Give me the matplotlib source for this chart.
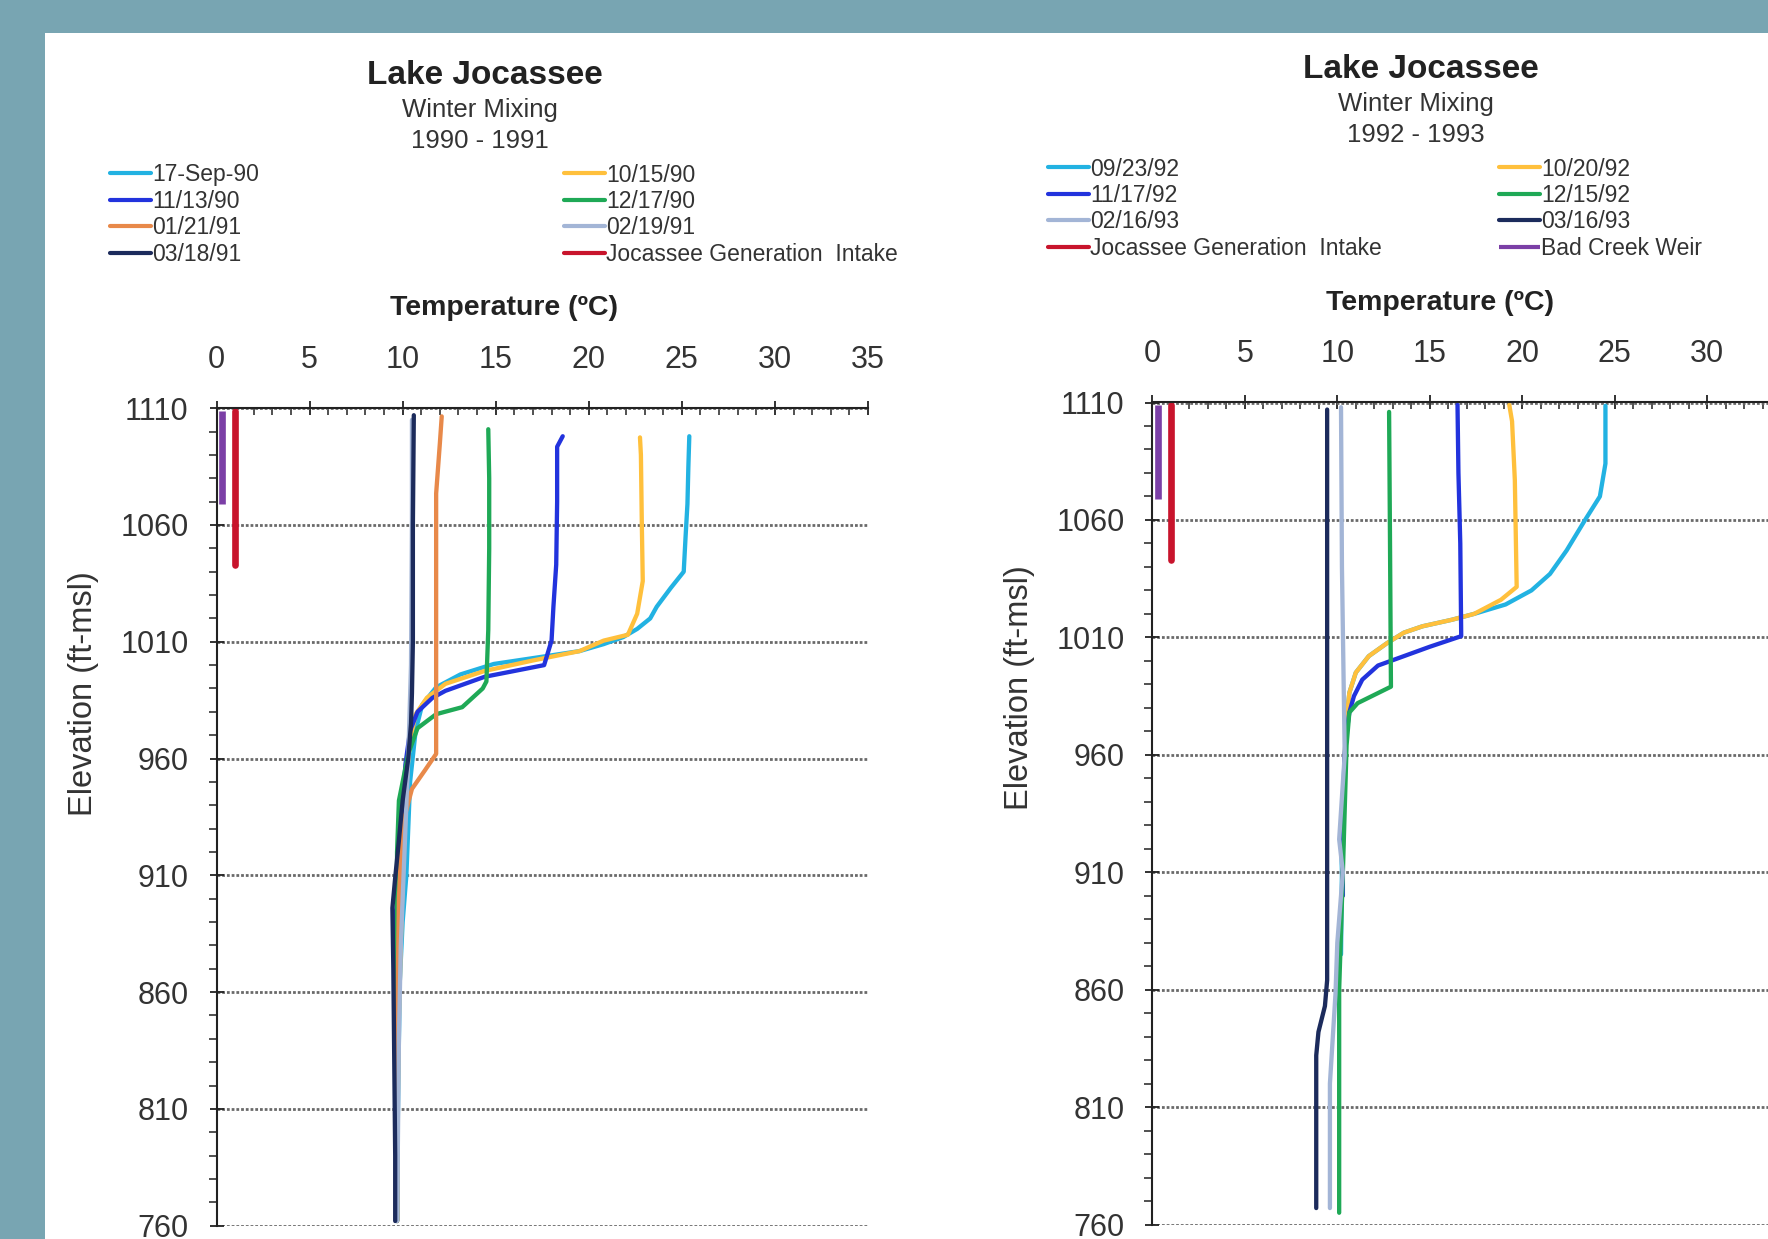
import matplotlib
matplotlib.use("Agg")
import matplotlib.pyplot as plt
from matplotlib.patches import Rectangle
from matplotlib.ticker import MultipleLocator

plt.rcParams["font.family"] = ["Liberation Sans", "DejaVu Sans"]

# ---- 1990-1991 profiles (temperature degC, elevation ft-msl) ----
sep90_temp = [25.4, 25.35, 25.3, 25.2, 25.1, 24.4, 23.65, 23.3, 22.6, 21.85, 20.8, 19.5, 17.0,
              14.9, 13.1, 11.8, 11.05, 10.7, 10.4, 10.3, 10.2, 10.0, 9.85, 9.8, 9.75, 9.7, 9.7]
sep90_elev = [1098, 1085, 1069, 1055, 1040, 1033, 1025, 1020, 1015.5, 1012, 1009, 1006, 1003,
              1000.5, 996, 990.5, 983, 972, 950, 930, 910, 890, 865, 840, 810, 785, 762]
oct90_temp = [22.75, 22.8, 22.85, 22.9, 22.6, 22.1, 20.8, 19.5, 17.0, 14.4, 12.3, 11.3, 10.7,
              10.45, 10.3, 10.15, 10.0, 9.9, 9.8, 9.75, 9.7, 9.7]
oct90_elev = [1097.5, 1090, 1060, 1036, 1022, 1013, 1010.5, 1006, 1002, 997.5, 992, 986, 979,
              970, 960, 940, 910, 880, 850, 820, 790, 762]
nov90_temp = [18.6, 18.3, 18.3, 18.25, 18.1, 18.0, 17.6, 14.4, 12.3, 11.6, 10.8, 10.4, 10.15,
              10.0, 9.9, 9.65, 9.6, 9.6, 9.65, 9.7, 9.7]
nov90_elev = [1098, 1093.5, 1070, 1043, 1025, 1010.5, 1000, 995, 989, 986, 980, 972, 957.5,
              940, 910, 895, 880, 850, 820, 790, 762]
dec90_temp = [14.6, 14.65, 14.65, 14.6, 14.5, 14.3, 13.2, 11.8, 10.8, 10.3, 9.8, 9.7, 9.7,
              9.7, 9.7, 9.7, 9.7]
dec90_elev = [1101, 1080, 1050, 1015, 993, 990, 982, 979, 973, 962, 942, 920, 900, 870, 840,
              800, 762]
jan91_temp = [12.1, 12.0, 11.8, 11.8, 11.8, 11.8, 11.2, 10.5, 10.1, 9.9, 9.8, 9.75, 9.7, 9.7, 9.7]
jan91_elev = [1106.5, 1095, 1073.5, 1040, 1000, 962, 955, 947, 935, 917, 900, 870, 830, 790, 762]
feb91_temp = [10.5, 10.5, 10.45, 10.3, 10.1, 9.9, 9.8, 9.75, 9.7]
feb91_elev = [1105, 1060, 1000, 960, 920, 880, 840, 800, 762]
mar91_temp = [10.6, 10.55, 10.55, 10.5, 10.45, 10.3, 10.0, 9.8, 9.6, 9.45, 9.5, 9.55, 9.6, 9.6]
mar91_elev = [1107, 1060, 1010, 988, 975, 960, 942, 925, 909, 896, 870, 830, 790, 762]

# ---- 1992-1993 profiles ----
sep92_temp = [24.5, 24.5, 24.2, 23.4, 22.4, 21.5, 20.5, 19.1, 17.4, 16.2, 14.6, 13.6, 12.7,
              11.7, 11.0, 10.65, 10.5, 10.4, 10.3, 10.2, 10.25, 10.2]
sep92_elev = [1108.6, 1084, 1070, 1060, 1047, 1037, 1030, 1024, 1020, 1017.5, 1014.7, 1012,
              1007.6, 1002, 995, 986.4, 975, 960, 940, 925, 910, 875]
oct92_temp = [19.3, 19.45, 19.6, 19.7, 18.85, 17.4, 16.2, 14.6, 13.6, 12.7, 11.7, 11.0, 10.65,
              10.5, 10.4, 10.35, 10.3, 10.3]
oct92_elev = [1109, 1102, 1077, 1031.5, 1026, 1020, 1017.5, 1014.7, 1012, 1007.6, 1002, 995,
              986.4, 975, 960, 940, 920, 900]
nov92_temp = [16.5, 16.55, 16.65, 16.7, 15.0, 13.6, 12.2, 11.35, 10.9, 10.65, 10.5, 10.4,
              10.35, 10.3, 10.3]
nov92_elev = [1109, 1080, 1050, 1010.5, 1006, 1002, 998, 992, 985, 978, 969.5, 960, 940, 920, 900]
dec92_temp = [12.8, 12.85, 12.9, 11.1, 10.65, 10.5, 10.45, 10.3, 10.1, 10.1, 10.1]
dec92_elev = [1106, 1050, 989, 982, 978, 964, 950, 910, 860, 810, 765]
feb93_temp = [10.2, 10.25, 10.4, 10.1, 10.3, 10.0, 9.9, 9.6, 9.6, 9.6]
feb93_elev = [1108, 1040, 960, 924, 910, 880, 858, 820, 790, 767]
mar93_temp = [9.45, 9.45, 9.45, 9.33, 8.98, 8.86, 8.86, 8.86]
mar93_elev = [1107, 960, 864, 853, 842, 832, 800, 767]

# ---- fixed structures ----
intake_temp = [1.0, 1.0]
intake_elev = [1109, 1043]
weir_temp = [0.3, 0.3]
weir_elev = [1109, 1069]

C_CYAN, C_YEL, C_BLUE, C_GRN = "#22B2E2", "#FFC03C", "#2233DD", "#1FA956"
C_ORG, C_GRAY, C_NAVY = "#E8894A", "#A3B5D6", "#1C2B5C"
C_RED, C_PURP = "#C8142C", "#7B3FA6"

left_series = [
    ("17-Sep-90", sep90_temp, sep90_elev, C_CYAN),
    ("10/15/90", oct90_temp, oct90_elev, C_YEL),
    ("11/13/90", nov90_temp, nov90_elev, C_BLUE),
    ("12/17/90", dec90_temp, dec90_elev, C_GRN),
    ("01/21/91", jan91_temp, jan91_elev, C_ORG),
    ("02/19/91", feb91_temp, feb91_elev, C_GRAY),
    ("03/18/91", mar91_temp, mar91_elev, C_NAVY),
]
right_series = [
    ("09/23/92", sep92_temp, sep92_elev, C_CYAN),
    ("10/20/92", oct92_temp, oct92_elev, C_YEL),
    ("11/17/92", nov92_temp, nov92_elev, C_BLUE),
    ("12/15/92", dec92_temp, dec92_elev, C_GRN),
    ("02/16/93", feb93_temp, feb93_elev, C_GRAY),
    ("03/16/93", mar93_temp, mar93_elev, C_NAVY),
]
INTAKE = "Jocassee Generation  Intake"
WEIR = "Bad Creek Weir"

W, H = 1768, 1239
fig = plt.figure(figsize=(W / 100, H / 100), dpi=100)
fig.patch.set_facecolor("#78A5B2")
fig.add_artist(Rectangle((45 / W, 0), 1, 1 - 33 / H, transform=fig.transFigure,
                         facecolor="white", edgecolor="none", zorder=0))


def fx(px):
    return px / W


def fy(py):
    return 1 - py / H


def draw_panel(x0, x1, ytop, ybot, series, years, title_x, title_y):
    ax = fig.add_axes([fx(x0), fy(ybot), fx(x1 - x0), (ybot - ytop) / H])
    ax.set_facecolor("none")
    handles = {}
    for label, t, e, c in series:
        (ln,) = ax.plot(t, e, color=c, lw=3.1, solid_capstyle="round", label=label)
        handles[label] = ln
    (ln,) = ax.plot(intake_temp, intake_elev, color=C_RED, lw=4.8, solid_capstyle="round")
    handles[INTAKE] = ln
    (ln,) = ax.plot(weir_temp, weir_elev, color=C_PURP, lw=4.8, solid_capstyle="butt")
    handles[WEIR] = ln

    ax.set_xlim(0, 35)
    ax.set_ylim(760, 1110)
    ax.xaxis.set_major_locator(MultipleLocator(5))
    ax.xaxis.set_minor_locator(MultipleLocator(1))
    ax.yaxis.set_major_locator(MultipleLocator(50, offset=10))
    ax.yaxis.set_minor_locator(MultipleLocator(10))
    ax.xaxis.tick_top()
    ax.tick_params(axis="x", which="major", direction="inout", length=10, width=1.3,
                   labelsize=22, pad=19, colors="#222222", labelcolor="#333333")
    ax.tick_params(axis="x", which="minor", direction="in", length=5, width=1.1, colors="#222222")
    ax.tick_params(axis="y", which="major", direction="inout", length=10, width=1.3,
                   labelsize=22, pad=15, colors="#222222", labelcolor="#333333")
    ax.tick_params(axis="y", which="minor", direction="out", length=6, width=1.1, colors="#222222")
    for s in ("right", "bottom"):
        ax.spines[s].set_visible(False)
    for s in ("left", "top"):
        ax.spines[s].set_linewidth(1.5)
        ax.spines[s].set_color("#222222")
    ax.set_axisbelow(True)
    ax.grid(axis="y", which="major", color="#6a6a6a", lw=2.0, linestyle=(0, (1.0, 0.7)))

    fig.text(fx(title_x), fy(title_y), "Lake Jocassee", ha="center", va="center",
             fontsize=24, fontweight="bold", color="#222222")
    fig.text(fx(title_x - 5), fy(title_y + 34), "Winter Mixing", ha="center", va="center",
             fontsize=18.5, color="#333333")
    fig.text(fx(title_x - 5), fy(title_y + 65), years, ha="center", va="center",
             fontsize=18.5, color="#333333")
    fig.text(fx(x0 + 288), fy(ytop - 100), "Temperature (\u00baC)",
             ha="center", va="center", fontsize=20.5, fontweight="bold", color="#222222")
    fig.text(fx(x0 - 133), fy(ytop + 285), "Elevation (ft-msl)", rotation=90,
             ha="center", va="center", fontsize=23.5, color="#333333")
    return ax, handles


def add_legend(handles, labels, x, y):
    leg = fig.legend([handles[l] for l in labels], labels, loc="upper left",
                     bbox_to_anchor=(fx(x), fy(y)), frameon=False, fontsize=16.5,
                     handlelength=1.8, handletextpad=0.05, labelspacing=0.15,
                     borderpad=0, borderaxespad=0, labelcolor="#333333")
    for h in leg.legend_handles:
        h.set_linewidth(3.0)


axL, hL = draw_panel(216.5, 868.0, 408.2, 1225.7, left_series, "1990 - 1991", 485, 76)
axR, hR = draw_panel(1152.4, 1799.6, 402.5, 1224.5, right_series, "1992 - 1993", 1421, 69.5)

add_legend(hL, ["17-Sep-90", "11/13/90", "01/21/91", "03/18/91"], 110, 163.5)
add_legend(hL, ["10/15/90", "12/17/90", "02/19/91", INTAKE], 564, 163.5)
add_legend(hR, ["09/23/92", "11/17/92", "02/16/93", INTAKE], 1048, 157.5)
add_legend(hR, ["10/20/92", "12/15/92", "03/16/93", WEIR], 1499, 157.5)

fig.savefig("out.png", dpi=100, facecolor=fig.get_facecolor())
